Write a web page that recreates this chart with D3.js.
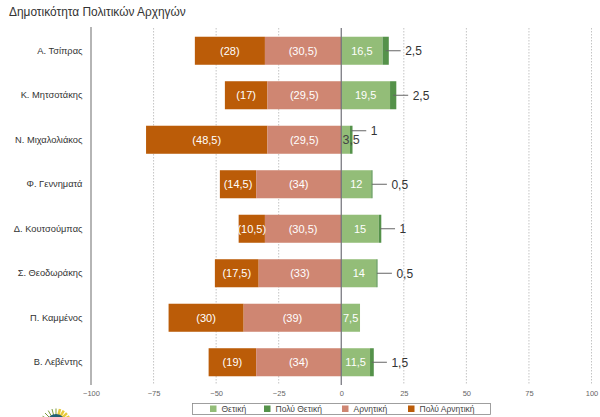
<!DOCTYPE html>
<html>
<head>
<meta charset="utf-8">
<script src="https://d3js.org/d3.v7.min.js"></script>
<style>
body { margin: 0; background: #fff; }
text { font-family: "Liberation Sans", Arial, sans-serif; }
</style>
</head>
<body>
<div id="chart"></div>
<script>
var leaders = ["Α. Τσίπρας", "Κ. Μητσοτάκης", "Ν. Μιχαλολιάκος", "Φ. Γεννηματά", "Δ. Κουτσούμπας", "Σ. Θεοδωράκης", "Π. Καμμένος", "Β. Λεβέντης"];
var positive = [16.5, 19.5, 3.5, 12, 15, 14, 7.5, 11.5];
var veryPositive = [2.5, 2.5, 1, 0.5, 1, 0.5, 0, 1.5];
var negative = [30.5, 29.5, 29.5, 34, 30.5, 33, 39, 34];
var veryNegative = [28, 17, 48.5, 14.5, 10.5, 17.5, 30, 19];
var ticks = [-100, -75, -50, -25, 0, 25, 50, 75, 100];
var legendLabels = ["Θετική", "Πολύ Θετική", "Αρνητική", "Πολύ Αρνητική"];
var legendColors = ["#93bd78", "#55924a", "#cf8672", "#bb5c08"];

var fmt = function(v) { return String(v).replace(".", ","); };

var svg = d3.select("#chart").append("svg").attr("width", 600).attr("height", 417).style("display", "block");

var x = d3.scaleLinear().domain([-100, 100]).range([91, 591.5]);
var y = d3.scaleBand().domain(leaders).range([28.5, 384.5]).paddingInner(0.37).paddingOuter(0.185);

svg.append("text").attr("x", 9).attr("y", 16).attr("font-size", 11.9).attr("fill", "#333").text("Δημοτικότητα Πολιτικών Αρχηγών");

// grid
svg.append("g").selectAll("line").data(ticks.filter(function(t) { return t != -100 && t != 0; })).enter().append("line")
    .attr("x1", function(d) { return x(d); }).attr("x2", function(d) { return x(d); })
    .attr("y1", 28).attr("y2", 385)
    .attr("stroke", "#bdbdbd").attr("stroke-width", 0.9).attr("stroke-dasharray", "1.5,1.5");

// bars
leaders.forEach(function(name, i) {
    var by = y(name), bh = y.bandwidth();
    var segs = [
        [-negative[i] - veryNegative[i], -negative[i], legendColors[3]],
        [-negative[i], 0, legendColors[2]],
        [0, positive[i], legendColors[0]],
        [positive[i], positive[i] + veryPositive[i], legendColors[1]]
    ];
    svg.selectAll(null).data(segs).enter().append("rect")
        .attr("x", function(d) { return x(d[0]); })
        .attr("width", function(d) { return x(d[1]) - x(d[0]); })
        .attr("y", by).attr("height", bh)
        .attr("fill", function(d) { return d[2]; });

    var cy = by + bh / 2;
    var label = function(v, text, color, size) {
        svg.append("text").attr("x", x(v)).attr("y", cy + 4).attr("text-anchor", "middle")
            .attr("font-size", size).attr("fill", color).text(text);
    };
    label(-negative[i] - veryNegative[i] / 2, "(" + fmt(veryNegative[i]) + ")", "#fff", 11);
    label(-negative[i] / 2, "(" + fmt(negative[i]) + ")", "#fff", 11);
    // small bar: the label does not fit, it is dark
    if (positive[i] < 5) {
        label(positive[i] / 2 + 2.2, fmt(positive[i]), "#444", 12.5);
    } else {
        label(positive[i] / 2, fmt(positive[i]), "#fff", 11);
    }

    if (veryPositive[i] > 0) {
        var sx = x(positive[i] + veryPositive[i] / 2);
        var ly = positive[i] < 5 ? cy - 9 : cy;
        svg.append("line").attr("x1", sx).attr("x2", sx + 15).attr("y1", ly).attr("y2", ly)
            .attr("stroke", "#666").attr("stroke-width", 1);
        svg.append("text").attr("x", sx + 19.5).attr("y", ly + 4.5)
            .attr("font-size", 12).attr("fill", "#333").text(fmt(veryPositive[i]));
    }
});

// category labels
svg.append("g").selectAll("text").data(leaders).enter().append("text")
    .attr("x", 82.5)
    .attr("y", function(d) { return y(d) + y.bandwidth() / 2 + 3; })
    .attr("text-anchor", "end").attr("font-size", 9.3).attr("fill", "#333")
    .text(function(d) { return d; });

// axes
svg.append("line").attr("x1", x(-100)).attr("x2", x(-100)).attr("y1", 27).attr("y2", 385)
    .attr("stroke", "#a3a3a3").attr("stroke-width", 1.6);
svg.append("line").attr("x1", x(0)).attr("x2", x(0)).attr("y1", 28).attr("y2", 385)
    .attr("stroke", "#6f6f78").attr("stroke-width", 1.2);

var axis = svg.append("g").attr("transform", "translate(0,385)")
    .call(d3.axisBottom(x).tickValues(ticks).tickSize(0).tickPadding(6));
axis.select(".domain").remove();
axis.selectAll("text").attr("font-size", 7.5).attr("fill", "#666").style("font-family", '"Liberation Sans", Arial, sans-serif');

// legend
var legend = svg.append("g");
legend.append("rect").attr("x", 192.5).attr("y", 403.5).attr("width", 298).attr("height", 11)
    .attr("fill", "#fff").attr("stroke", "#888").attr("stroke-width", 0.8);
var swatchX = [210, 264, 342, 408];
legendLabels.forEach(function(t, i) {
    legend.append("rect").attr("x", swatchX[i]).attr("y", 405.5).attr("width", 6.5).attr("height", 6.5).attr("fill", legendColors[i]);
    legend.append("text").attr("x", swatchX[i] + 11.5).attr("y", 412).attr("font-size", 8.5).attr("fill", "#444").text(t);
});

// logo, cut by the bottom edge
var logo = svg.append("g").attr("transform", "translate(56,424)");
d3.range(-60, 61, 15).forEach(function(a) {
    logo.append("line").attr("x1", 0).attr("y1", 0)
        .attr("x2", 15.5 * Math.sin(a * Math.PI / 180)).attr("y2", -15.5 * Math.cos(a * Math.PI / 180))
        .attr("stroke", a > 0 ? "#e8c93a" : "#7a9a3a").attr("stroke-width", a > 0 ? 2.5 : 1);
});
logo.append("circle").attr("r", 10).attr("fill", "#1f5f74");
</script>
</body>
</html>
